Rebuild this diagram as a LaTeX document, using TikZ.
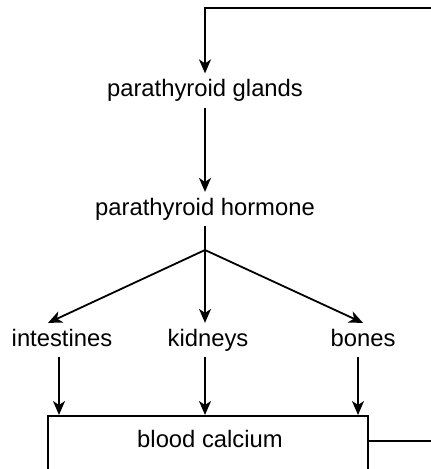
\documentclass[tikz,border=0pt]{standalone}
\usepackage{fontspec}
\setmainfont{Liberation Sans}
\usetikzlibrary{arrows.meta, positioning, calc}

\begin{document}
\begin{tikzpicture}[x=0.5pt, y=-0.5pt,
	freccia/.style={-{Stealth[length=7pt,width=6pt,inset=2pt]}, line width=0.9pt},
	voce/.style={inner sep=3pt, outer sep=0pt, text height=8.6pt, text depth=2.5pt, font=\fontsize{11.9}{14}\selectfont}]
	
	% Area visibile
	\clip (0,0) rectangle (431,469);
	
	% Nodi della catena
	\node[voce] (glands) at (205,90.5) {parathyroid glands};
	\node[voce] (hormone) at (205,209) {parathyroid hormone};
	\coordinate (split) at (205,250);
	
	% Organi bersaglio
	\node[voce] (intestines) at (62,340) {intestines};
	\node[voce] (kidneys) at (208,340) {kidneys};
	\node[voce] (bones) at (363,340) {bones};
	
	% Riquadro del calcio nel sangue
	\node[draw, line width=0.8pt, minimum width=160pt, minimum height=50pt, anchor=north, inner sep=0pt] (blood) at (208,415) {};
	\node[voce] (bloodlbl) at (210,441) {blood calcium};
	\coordinate (back) at (450,8);
	
	% Frecce
	\draw[freccia] (glands) -- (hormone);
	\draw[line width=0.9pt] (hormone) -- (split);
	\draw[freccia] (split) -- ([xshift=-7pt]intestines.north);
	\draw[freccia] (split) -- (split |- kidneys.north);
	\draw[freccia] (split) -- (bones.north);
	
	\draw[freccia] ([xshift=-1.5pt]intestines.south) -- ([xshift=-1.5pt]intestines.south |- blood.north);
	\draw[freccia] (split |- kidneys.south) -- (split |- blood.north);
	\draw[freccia] ([xshift=-2.5pt]bones.south) -- ([xshift=-2.5pt]bones.south |- blood.north);
	
	% Ritorno verso le ghiandole
	\draw[freccia] (bloodlbl -| blood.east) -| (back) -| (glands.north);
	
\end{tikzpicture}
\end{document}
